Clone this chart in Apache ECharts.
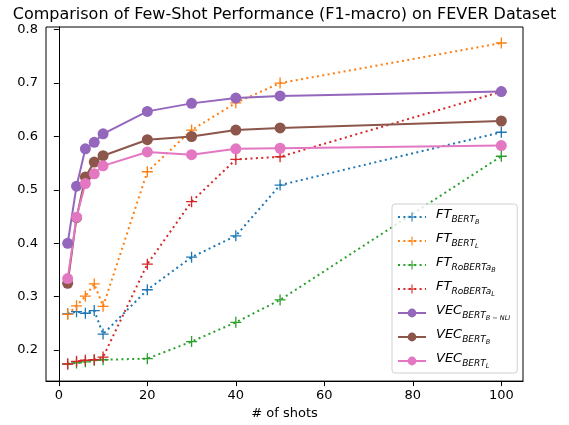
<!DOCTYPE html>
<html>
<head>
<meta charset="utf-8">
<script src="https://cdn.jsdelivr.net/npm/echarts@6/dist/echarts.min.js"></script>
<style>
  html, body { margin: 0; padding: 0; background: #fff; }
  #chart1 { width: 569px; height: 425px; }
</style>
</head>
<body>
<div id="chart1"></div>
<script>
// 数据
var shots = [2, 4, 6, 8, 10, 20, 30, 40, 50, 100];
var ftBertB = [0.268, 0.272, 0.269, 0.274, 0.230, 0.313, 0.374, 0.414, 0.509, 0.608];
var ftBertL = [0.267, 0.283, 0.301, 0.324, 0.282, 0.534, 0.612, 0.663, 0.700, 0.775];
var ftRobB = [0.174, 0.176, 0.178, 0.181, 0.182, 0.184, 0.216, 0.252, 0.294, 0.563];
var ftRobL = [0.174, 0.179, 0.181, 0.182, 0.187, 0.361, 0.478, 0.557, 0.562, 0.684];
var vecNli = [0.400, 0.507, 0.577, 0.589, 0.605, 0.647, 0.662, 0.672, 0.676, 0.684];
var vecB = [0.325, 0.448, 0.524, 0.552, 0.564, 0.594, 0.600, 0.612, 0.616, 0.629];
var vecL = [0.334, 0.449, 0.512, 0.530, 0.545, 0.571, 0.566, 0.577, 0.578, 0.583];
var xTicks = [0, 20, 40, 60, 80, 100];
var yTicks = [0.2, 0.3, 0.4, 0.5, 0.6, 0.7, 0.8];

var font = 'DejaVu Sans';
var plus = 'path://M4.4,0H5.6V4.4H10V5.6H5.6V10H4.4V5.6H0V4.4H4.4Z';

function pts(ys) {
    return shots.map(function (x, i) { return [x, ys[i]]; });
}

// 图例名称 -> 富文本
var labels = {
    'FT_BERT_B': '{m|FT}{s|BERT}{ss|B}',
    'FT_BERT_L': '{m|FT}{s|BERT}{ss|L}',
    'FT_RoBERTa_B': '{m|FT}{s|RoBERTa}{ss|B}',
    'FT_RoBERTa_L': '{m|FT}{s|RoBERTa}{ss|L}',
    'VEC_BERT_B-NLI': '{m|VEC}{s|BERT}{ss|B − NLI}',
    'VEC_BERT_B': '{m|VEC}{s|BERT}{ss|B}',
    'VEC_BERT_L': '{m|VEC}{s|BERT}{ss|L}'
};

function ftSeries(name, ys, color) {
    return {
        name: name, type: 'line', data: pts(ys),
        symbol: plus, symbolSize: 11,
        itemStyle: { color: color },
        lineStyle: { color: color, width: 2, type: [2, 3.4] },
        z: 2
    };
}
function vecSeries(name, ys, color) {
    return {
        name: name, type: 'line', data: pts(ys),
        symbol: 'circle', symbolSize: 11,
        itemStyle: { color: color },
        lineStyle: { color: color, width: 2 },
        z: 3
    };
}

var myChart = echarts.init(document.getElementById('chart1'));

var option = {
    animation: false,
    backgroundColor: '#fff',
    title: {
        text: 'Comparison of Few-Shot Performance (F1-macro) on FEVER Dataset',
        left: 'center', top: 2,
        textStyle: { fontFamily: font, fontSize: 16, fontWeight: 'normal', color: '#000' }
    },
    grid: {
        left: 46, right: 46, top: 27, bottom: 43,
        show: true, borderColor: '#000', borderWidth: 1
    },
    legend: {
        orient: 'vertical',
        left: 392, top: 204,
        itemWidth: 28, itemHeight: 11, itemGap: 6,
        padding: [4, 7, 3, 5],
        backgroundColor: 'rgba(255,255,255,0.8)',
        borderColor: '#d0d0d0', borderWidth: 1, borderRadius: 3,
        formatter: function (name) { return labels[name]; },
        textStyle: {
            fontFamily: font, color: '#000', padding: [0, 0, 0, 5],
            rich: {
                m: { fontFamily: font, fontStyle: 'italic', fontSize: 13, lineHeight: 18, verticalAlign: 'top' },
                s: { fontFamily: font, fontStyle: 'italic', fontSize: 9, lineHeight: 9, verticalAlign: 'top', padding: [7, 0, 0, 0] },
                ss: { fontFamily: font, fontStyle: 'italic', fontSize: 6.5, lineHeight: 7, verticalAlign: 'top', padding: [11, 0, 0, 0] }
            }
        },
        data: Object.keys(labels)
    },
    xAxis: {
        type: 'value', min: -2.9, max: 104.9,
        name: '# of shots', nameLocation: 'middle', nameGap: 24,
        nameTextStyle: { fontFamily: font, fontSize: 13, color: '#000' },
        splitLine: { show: false },
        axisLine: { lineStyle: { color: '#000' } },
        axisTick: { show: true, length: 5, customValues: xTicks, lineStyle: { color: '#000' } },
        axisLabel: { customValues: xTicks, fontFamily: font, fontSize: 13, color: '#000', margin: 8 }
    },
    yAxis: {
        type: 'value', min: 0.142, max: 0.805,
        splitLine: { show: false },
        axisLine: { show: true, lineStyle: { color: '#000' } },
        axisTick: { show: true, length: 5, customValues: yTicks, lineStyle: { color: '#000' } },
        axisLabel: {
            customValues: yTicks, fontFamily: font, fontSize: 13, color: '#000', margin: 8,
            formatter: function (v) { return v.toFixed(1); }
        }
    },
    series: [
        ftSeries('FT_BERT_B', ftBertB, '#1f77b4'),
        ftSeries('FT_BERT_L', ftBertL, '#ff7f0e'),
        ftSeries('FT_RoBERTa_B', ftRobB, '#2ca02c'),
        ftSeries('FT_RoBERTa_L', ftRobL, '#d62728'),
        vecSeries('VEC_BERT_B-NLI', vecNli, '#9467bd'),
        vecSeries('VEC_BERT_B', vecB, '#8c564b'),
        vecSeries('VEC_BERT_L', vecL, '#e377c2')
    ]
};

myChart.setOption(option);
</script>
</body>
</html>
